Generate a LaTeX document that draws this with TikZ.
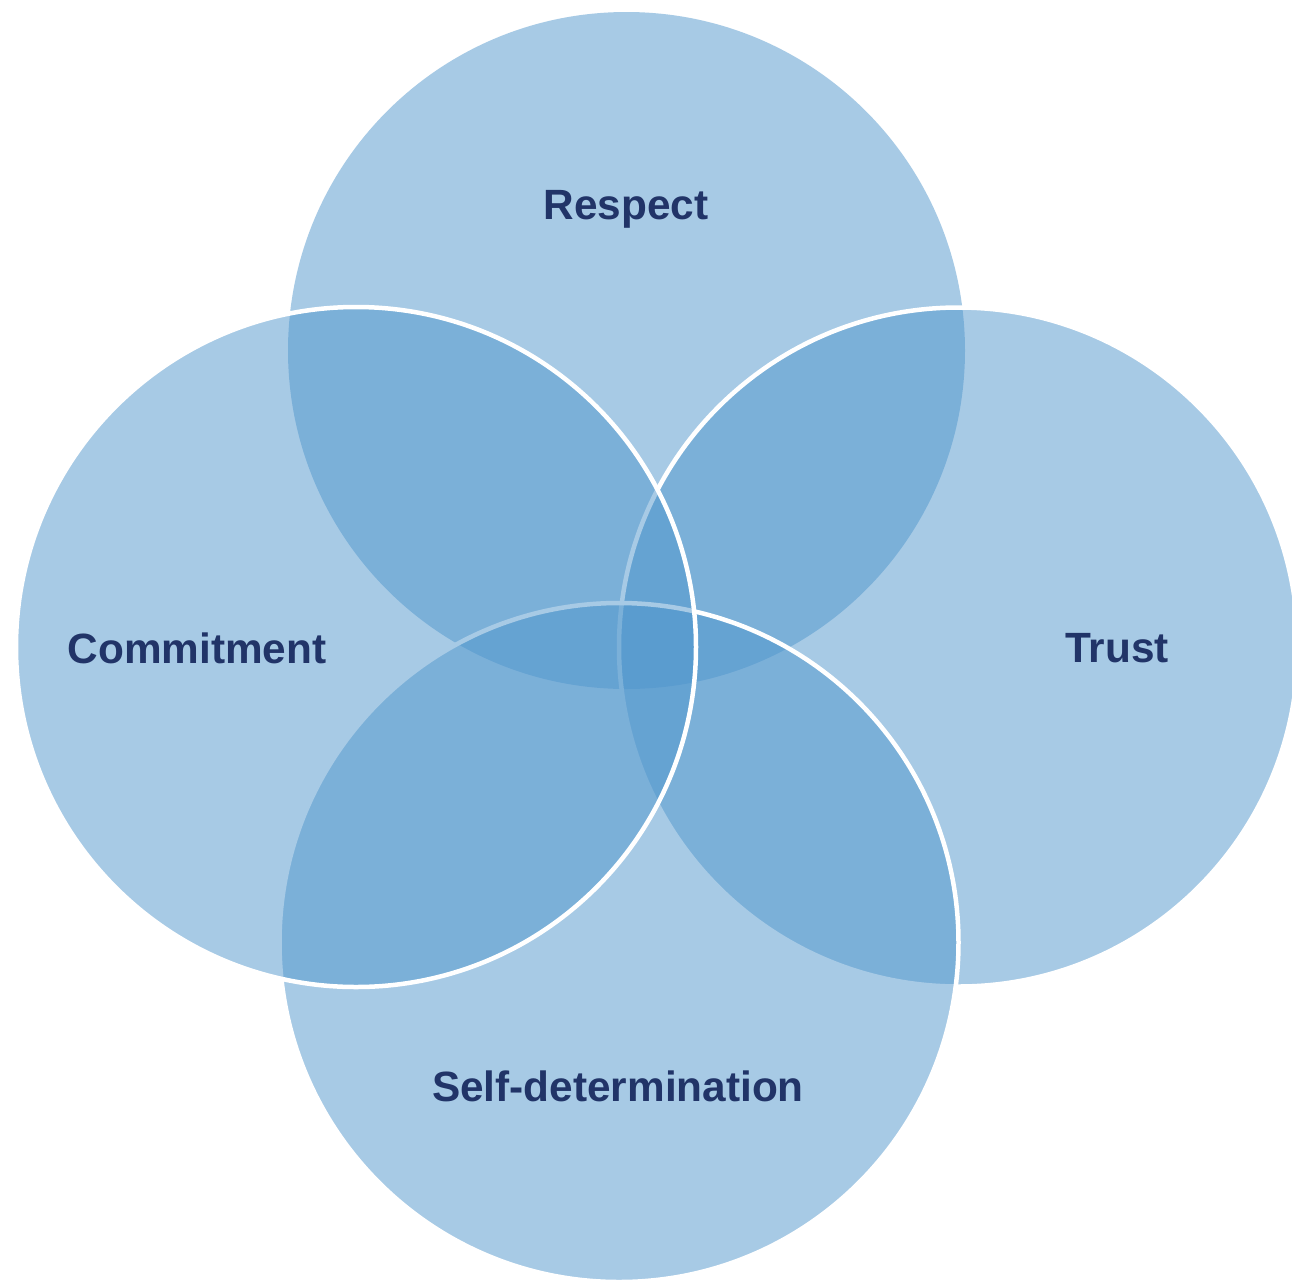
\documentclass[tikz,border=0pt]{standalone}
\usepackage{fontspec}
\setmainfont{Liberation Sans}
\definecolor{circfill}{RGB}{81,151,205}
\definecolor{labelcol}{RGB}{33,52,104}
\begin{document}
\begin{tikzpicture}[x=0.02cm,y=-0.02cm,
  venn/.style={fill=circfill,fill opacity=0.5},
  vennline/.style={venn,draw=white,line width=0.09cm},
  lbl/.style={text=labelcol,font=\fontsize{24.1}{28}\selectfont\bfseries,inner sep=0pt}]
\useasboundingbox (0,0) rectangle (1292,1282);
\fill[white] (0,0) rectangle (1292,1282);
\path[venn] (626.5,350.5) circle[radius=338.5];
\path[vennline] (958.5,647) circle[radius=339.5];
\path[vennline] (619,942.5) circle[radius=339.5];
\path[vennline] (356,647) circle[radius=340];
\node[lbl] (respect) at (626,209) {Respect};
\node[lbl] (commit) at (197,648) {Commitment};
\node[lbl] (trust) at (1117,648) {Trust};
\node[lbl] (selfdet) at (618,1086) {Self-determination};
\end{tikzpicture}
\end{document}
